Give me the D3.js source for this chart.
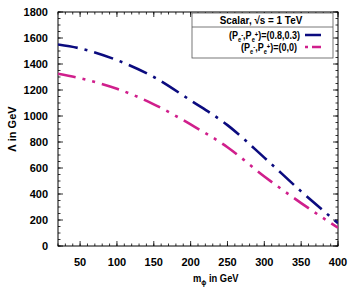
<!DOCTYPE html>
<html>
<head>
<meta charset="utf-8">
<script src="https://cdn.jsdelivr.net/npm/d3@7"></script>
<style>
  body { margin: 0; background: #fff; }
  text { font-family: "Liberation Sans", Arial, sans-serif; font-weight: bold; }
</style>
</head>
<body>
<div id="chart"></div>
<script>
// values
const massPoints = [20, 50, 100, 150, 200, 250, 300, 350, 400];
const lambdaPolarized = [1550, 1520, 1430, 1300, 1120, 930, 680, 420, 175];
const lambdaUnpolarized = [1325, 1290, 1210, 1090, 935, 760, 535, 330, 140];
const xTicks = [50, 100, 150, 200, 250, 300, 350, 400];
const yTicks = [0, 200, 400, 600, 800, 1000, 1200, 1400, 1600, 1800];

const width = 354, height = 300;
const m = { left: 58, right: 16, top: 12, bottom: 54 };

const svg = d3.select('#chart').append('svg')
  .attr('width', width)
  .attr('height', height);

const x = d3.scaleLinear().domain([20, 400]).range([m.left, width - m.right]);
const y = d3.scaleLinear().domain([0, 1800]).range([height - m.bottom, m.top]);

const x0 = x.range()[0], x1 = x.range()[1];
const y0 = y.range()[0], y1 = y.range()[1];

// frame
svg.append('rect')
  .attr('x', x0).attr('y', y1)
  .attr('width', x1 - x0).attr('height', y0 - y1)
  .attr('fill', 'none').attr('stroke', '#000').attr('stroke-width', 1);

// ticks on all four sides, pointing in
const xMinor = d3.range(20, 401, 10);
const yMinor = d3.range(0, 1801, 50);

function tickLines(vals, len, side) {
  svg.append('g').selectAll('line').data(vals).enter().append('line')
    .attr('stroke', '#000').attr('stroke-width', 0.8)
    .attr('x1', d => side === 'b' || side === 't' ? x(d) : (side === 'l' ? x0 : x1))
    .attr('x2', d => side === 'b' || side === 't' ? x(d) : (side === 'l' ? x0 + len : x1 - len))
    .attr('y1', d => side === 'l' || side === 'r' ? y(d) : (side === 'b' ? y0 : y1))
    .attr('y2', d => side === 'l' || side === 'r' ? y(d) : (side === 'b' ? y0 - len : y1 + len));
}
tickLines(xMinor, 2.5, 'b'); tickLines(xMinor, 2.5, 't');
tickLines(xTicks, 5, 'b'); tickLines(xTicks, 5, 't');
tickLines(yMinor, 2.5, 'l'); tickLines(yMinor, 2.5, 'r');
tickLines(yTicks, 5, 'l'); tickLines(yTicks, 5, 'r');

// tick labels
svg.append('g').selectAll('text').data(xTicks).enter().append('text')
  .attr('x', d => x(d)).attr('y', y0 + 20)
  .attr('text-anchor', 'middle').attr('font-size', 11)
  .text(d => d);

svg.append('g').selectAll('text').data(yTicks).enter().append('text')
  .attr('x', x0 - 10).attr('y', d => y(d) + 4)
  .attr('text-anchor', 'end').attr('font-size', 11)
  .text(d => d);

// axis titles
const xt = svg.append('text')
  .attr('transform', `translate(193, ${y0 + 36}) scale(0.85, 1)`)
  .attr('font-size', 11);
xt.append('tspan').text('m');
xt.append('tspan').attr('font-size', 8).attr('dy', 3).text('\u03D5');
xt.append('tspan').attr('dy', -3).text(' in GeV');

svg.append('text')
  .attr('transform', `translate(16, ${(y0 + y1) / 2}) rotate(-90)`)
  .attr('text-anchor', 'middle').attr('font-size', 11)
  .text('\u039B in GeV');

// curves
const line = d3.line()
  .x(d => x(d[0]))
  .y(d => y(d[1]))
  .curve(d3.curveMonotoneX);

const series = [
  { vals: lambdaPolarized, color: '#0b0b7f', dash: '20,7,3,7' },
  { vals: lambdaUnpolarized, color: '#d01f8c', dash: '18,7,3,7,3,7' },
];

svg.append('clipPath').attr('id', 'plot-clip')
  .append('rect').attr('x', x0).attr('y', y1).attr('width', x1 - x0).attr('height', y0 - y1);

svg.append('g').attr('clip-path', 'url(#plot-clip)')
  .selectAll('path').data(series).enter().append('path')
  .attr('d', s => line(massPoints.map((mv, i) => [mv, s.vals[i]])))
  .attr('fill', 'none')
  .attr('stroke', s => s.color)
  .attr('stroke-width', 2.6)
  .attr('stroke-dasharray', s => s.dash);

// legend
const lg = svg.append('g');
lg.append('rect')
  .attr('x', 192).attr('y', 13).attr('width', 141).attr('height', 45)
  .attr('fill', '#fff').attr('stroke', '#555').attr('stroke-width', 0.8);
lg.append('line')
  .attr('x1', 192).attr('x2', 333).attr('y1', 27).attr('y2', 27)
  .attr('stroke', '#555').attr('stroke-width', 0.8);
lg.append('text')
  .attr('transform', 'translate(261, 24) scale(0.9, 1)')
  .attr('text-anchor', 'middle').attr('font-size', 11)
  .text('Scalar, \u221As = 1 TeV');

const entries = [
  { label: '(0.8,0.3)', color: series[0].color, dash: '15,0', right: 300 },
  { label: '(0,0)', color: series[1].color, dash: '3,4,12,0', right: 297 },
];
entries.forEach((e, i) => {
  const yy = 39 + i * 12;
  const t = lg.append('text')
    .attr('transform', `translate(${e.right}, ${yy}) scale(0.82, 1)`)
    .attr('text-anchor', 'end').attr('font-size', 11);
  t.append('tspan').text('(P');
  t.append('tspan').attr('font-size', 7).attr('dy', 2.5).text('e');
  t.append('tspan').attr('font-size', 7).attr('dy', -5).text('-');
  t.append('tspan').attr('dy', 2.5).text(',P');
  t.append('tspan').attr('font-size', 7).attr('dy', 2.5).text('e');
  t.append('tspan').attr('font-size', 7).attr('dy', -5).text('+');
  t.append('tspan').attr('dy', 2.5).text(')=' + e.label);
  lg.append('line')
    .attr('x1', 305).attr('x2', 321).attr('y1', yy - 4).attr('y2', yy - 4)
    .attr('stroke', e.color).attr('stroke-width', 2.6)
    .attr('stroke-dasharray', e.dash);
});
</script>
</body>
</html>
